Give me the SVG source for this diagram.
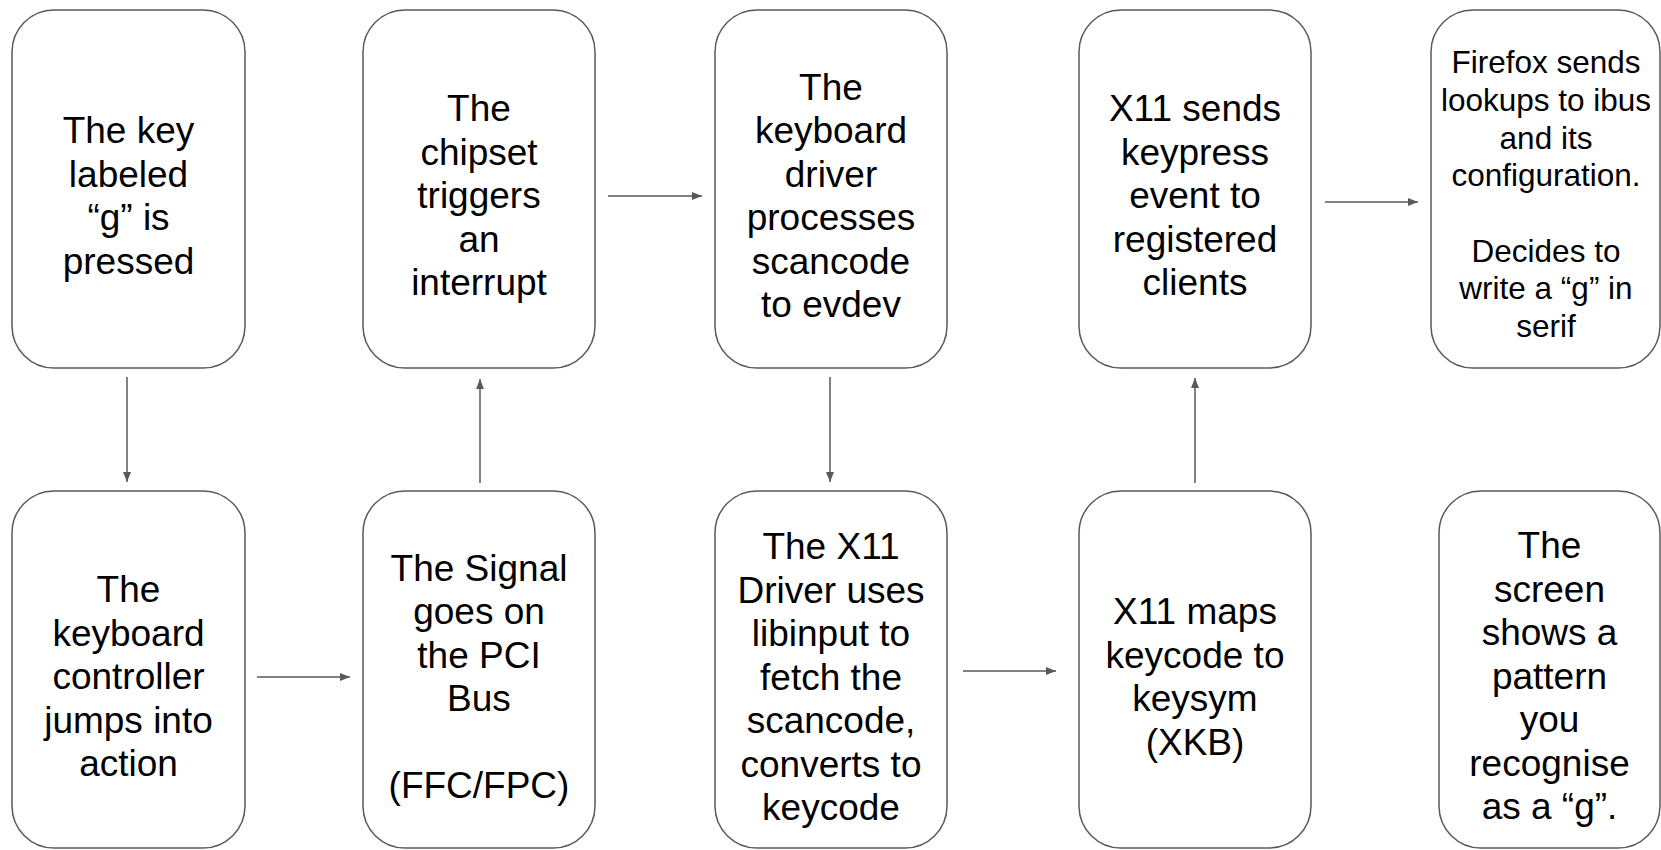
<svg xmlns="http://www.w3.org/2000/svg" width="1661" height="850" viewBox="0 0 1661 850">
<style>
.box{fill:#fff;stroke:#595959;stroke-width:1.5}
.t{font-family:"Liberation Sans",Arial,sans-serif;font-size:37px;fill:#000;text-anchor:middle}
.s{font-size:31.5px}
.c{stroke:#595959;stroke-width:1.5;fill:none;marker-end:url(#ah)}
</style>
<defs>
<marker id="ah" viewBox="0 0 10 8" refX="10" refY="4" markerWidth="10" markerHeight="8" markerUnits="userSpaceOnUse" orient="auto">
<path d="M0,0 L10,4 L0,8 z" fill="#595959"/>
</marker>
</defs>
<rect width="1661" height="850" fill="#fff"/>
<g id="connectors">
<line class="c" x1="127" y1="377" x2="127" y2="482"/>
<line class="c" x1="480" y1="483" x2="480" y2="379"/>
<line class="c" x1="257" y1="677" x2="350" y2="677"/>
<line class="c" x1="608" y1="196" x2="702" y2="196"/>
<line class="c" x1="830" y1="377" x2="830" y2="482"/>
<line class="c" x1="963" y1="671" x2="1056" y2="671"/>
<line class="c" x1="1195" y1="483" x2="1195" y2="378"/>
<line class="c" x1="1325" y1="202" x2="1418" y2="202"/>
</g>
<g id="n1"><rect class="box" x="12" y="10" width="233" height="358" rx="42"/>
<text class="t"><tspan x="128.5" y="143">The key</tspan><tspan x="128.5" y="186.5">labeled</tspan><tspan x="128.5" y="230">“g” is</tspan><tspan x="128.5" y="273.5">pressed</tspan></text></g>
<g id="n2"><rect class="box" x="363" y="10" width="232" height="358" rx="42"/>
<text class="t"><tspan x="479" y="121">The</tspan><tspan x="479" y="164.5">chipset</tspan><tspan x="479" y="208">triggers</tspan><tspan x="479" y="251.5">an</tspan><tspan x="479" y="295">interrupt</tspan></text></g>
<g id="n3"><rect class="box" x="715" y="10" width="232" height="358" rx="42"/>
<text class="t"><tspan x="831" y="99.5">The</tspan><tspan x="831" y="143">keyboard</tspan><tspan x="831" y="186.5">driver</tspan><tspan x="831" y="230">processes</tspan><tspan x="831" y="273.5">scancode</tspan><tspan x="831" y="317">to evdev</tspan></text></g>
<g id="n4"><rect class="box" x="1079" y="10" width="232" height="358" rx="42"/>
<text class="t"><tspan x="1195" y="121">X11 sends</tspan><tspan x="1195" y="164.5">keypress</tspan><tspan x="1195" y="208">event to</tspan><tspan x="1195" y="251.5">registered</tspan><tspan x="1195" y="295">clients</tspan></text></g>
<g id="n5"><rect class="box" x="1431" y="10" width="229" height="358" rx="42"/>
<text class="t s"><tspan x="1546" y="73">Firefox sends</tspan><tspan x="1546" y="111">lookups to ibus</tspan><tspan x="1546" y="148.5">and its</tspan><tspan x="1546" y="186">configuration.</tspan><tspan x="1546" y="261.5">Decides to</tspan><tspan x="1546" y="299">write a “g” in</tspan><tspan x="1546" y="337">serif</tspan></text></g>
<g id="n6"><rect class="box" x="12" y="491" width="233" height="357" rx="42"/>
<text class="t"><tspan x="128.5" y="602">The</tspan><tspan x="128.5" y="645.5">keyboard</tspan><tspan x="128.5" y="689">controller</tspan><tspan x="128.5" y="732.5">jumps into</tspan><tspan x="128.5" y="776">action</tspan></text></g>
<g id="n7"><rect class="box" x="363" y="491" width="232" height="357" rx="42"/>
<text class="t"><tspan x="479" y="580.5">The Signal</tspan><tspan x="479" y="624">goes on</tspan><tspan x="479" y="667.5">the PCI</tspan><tspan x="479" y="711">Bus</tspan><tspan x="479" y="798">(FFC/FPC)</tspan></text></g>
<g id="n8"><rect class="box" x="715" y="491" width="232" height="357" rx="42"/>
<text class="t"><tspan x="831" y="559">The X11</tspan><tspan x="831" y="602.5">Driver uses</tspan><tspan x="831" y="646">libinput to</tspan><tspan x="831" y="689.5">fetch the</tspan><tspan x="831" y="733">scancode,</tspan><tspan x="831" y="776.5">converts to</tspan><tspan x="831" y="820">keycode</tspan></text></g>
<g id="n9"><rect class="box" x="1079" y="491" width="232" height="357" rx="42"/>
<text class="t"><tspan x="1195" y="624">X11 maps</tspan><tspan x="1195" y="667.5">keycode to</tspan><tspan x="1195" y="711">keysym</tspan><tspan x="1195" y="754.5">(XKB)</tspan></text></g>
<g id="n10"><rect class="box" x="1439" y="491" width="221" height="357" rx="42"/>
<text class="t"><tspan x="1549.5" y="558">The</tspan><tspan x="1549.5" y="601.5">screen</tspan><tspan x="1549.5" y="645">shows a</tspan><tspan x="1549.5" y="688.5">pattern</tspan><tspan x="1549.5" y="732">you</tspan><tspan x="1549.5" y="775.5">recognise</tspan><tspan x="1549.5" y="819">as a “g”.</tspan></text></g>
</svg>
